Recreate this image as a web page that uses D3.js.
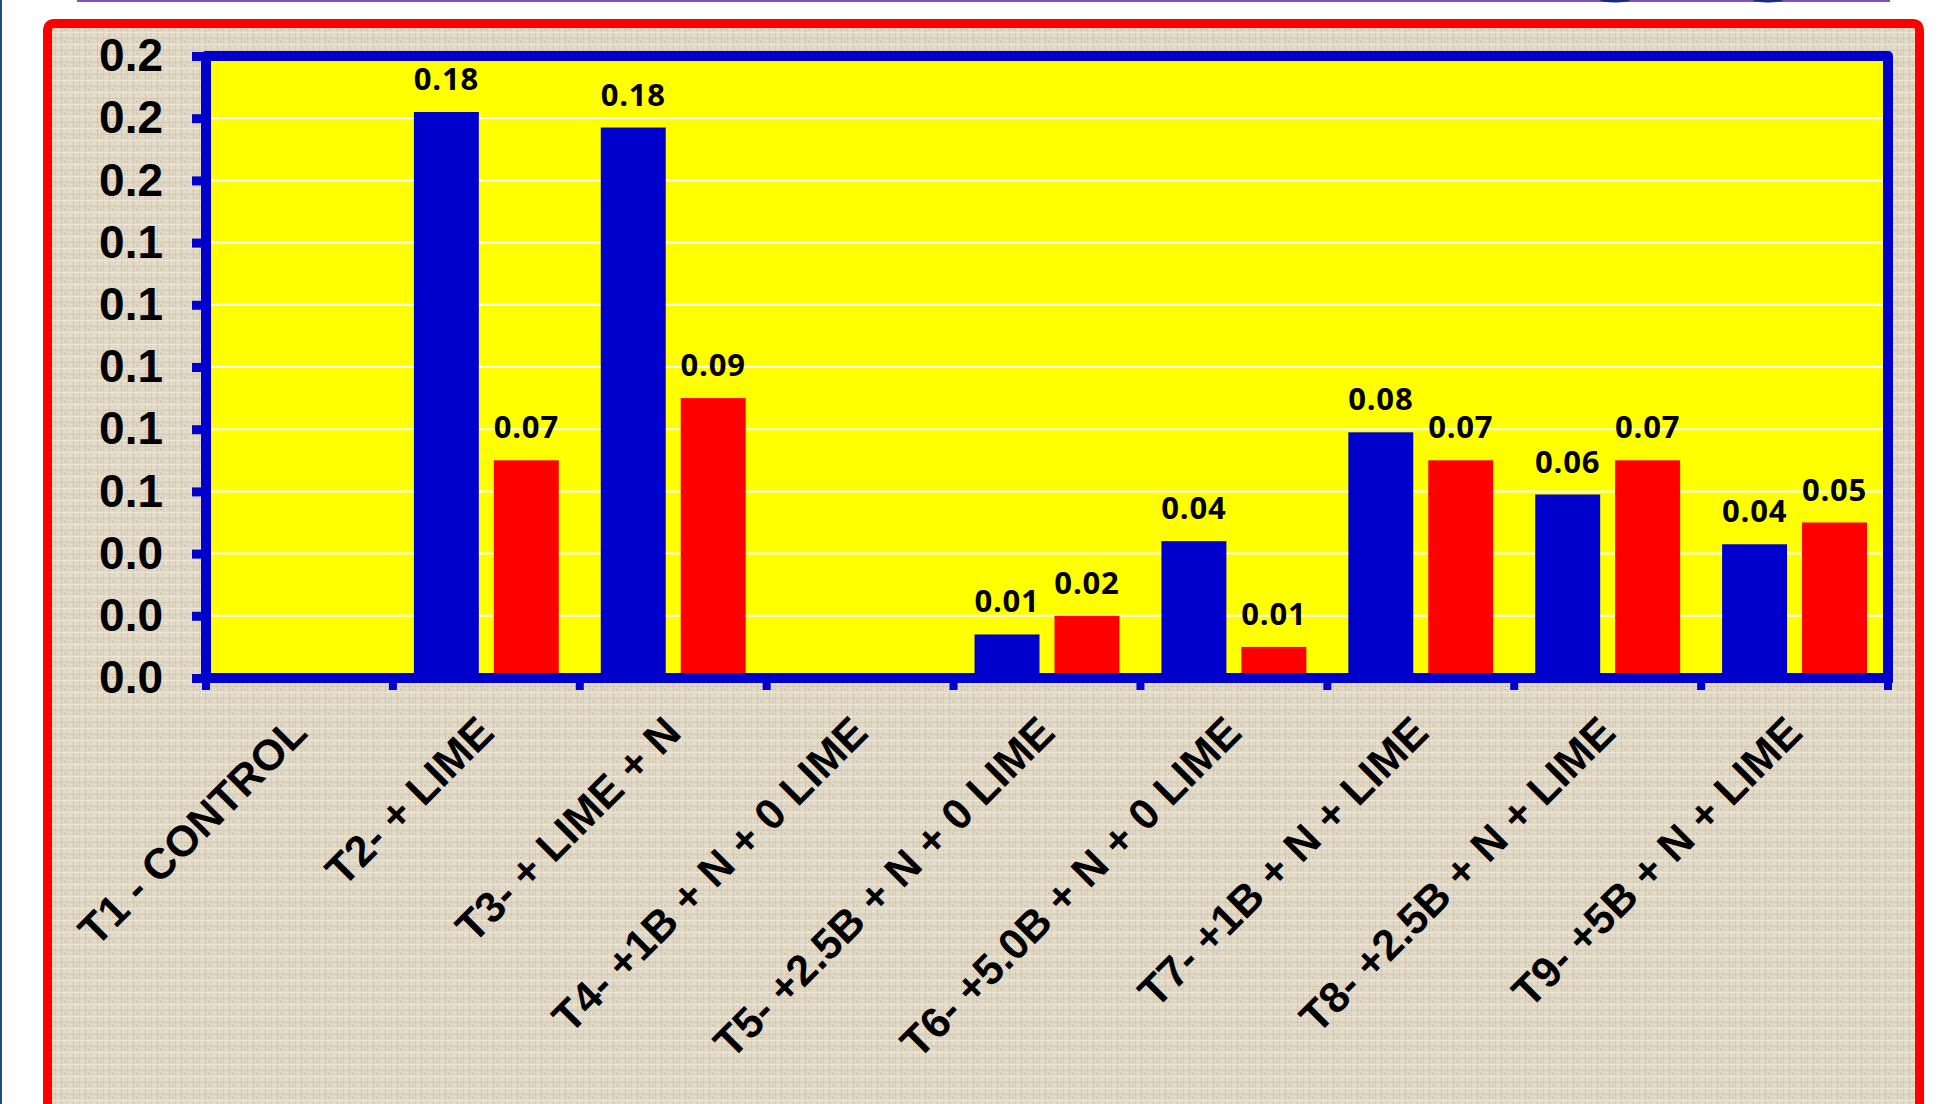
<!DOCTYPE html>
<html>
<head>
<meta charset="utf-8">
<script src="https://cdn.jsdelivr.net/npm/d3@7"></script>
<style>
  html, body { margin: 0; padding: 0; background: #ffffff; }
  svg { display: block; }
</style>
</head>
<body>
<svg id="chart" width="1959" height="1104"></svg>
<script>
// ---- data ----
const categories = [
  "T1 - CONTROL",
  "T2- + LIME",
  "T3- + LIME + N",
  "T4- +1B + N + 0 LIME",
  "T5- +2.5B + N + 0 LIME",
  "T6- +5.0B + N + 0 LIME",
  "T7- +1B + N + LIME",
  "T8- +2.5B + N + LIME",
  "T9- +5B + N + LIME"
];
const seriesBlue = [0, 0.182, 0.177, 0, 0.014, 0.044, 0.079, 0.059, 0.043];
const seriesRed  = [0, 0.070, 0.090, 0, 0.020, 0.010, 0.070, 0.070, 0.050];
const seriesNames = ["blue", "red"];
const yTicks = [0, 0.02, 0.04, 0.06, 0.08, 0.10, 0.12, 0.14, 0.16, 0.18, 0.20];

// ---- layout ----
const svg = d3.select("#chart");
const W = 1959, H = 1104;
const plot = { left: 206, right: 1888, top: 56, bottom: 678 };
const BLUE = "#0000cc", RED = "#ff0000", YELLOW = "#ffff00";

// texture pattern
const defs = svg.append("defs");
const pat = defs.append("pattern").attr("id", "linen")
  .attr("patternUnits", "userSpaceOnUse").attr("width", 12).attr("height", 12);
pat.append("rect").attr("width", 12).attr("height", 12).attr("fill", "#e3d9c7");
pat.append("rect").attr("x", 1).attr("y", 0).attr("width", 1).attr("height", 12).attr("fill", "#cfc4b0");
pat.append("rect").attr("x", 7).attr("y", 0).attr("width", 1).attr("height", 12).attr("fill", "#d8cebb");
pat.append("rect").attr("x", 0).attr("y", 2).attr("width", 12).attr("height", 1).attr("fill", "#d2c7b3");
pat.append("rect").attr("x", 0).attr("y", 8).attr("width", 12).attr("height", 1).attr("fill", "#efe7d7");
pat.append("rect").attr("x", 4).attr("y", 5).attr("width", 2).attr("height", 1).attr("fill", "#c4b8a3");
pat.append("rect").attr("x", 9).attr("y", 10).attr("width", 1).attr("height", 2).attr("fill", "#f3ecde");

// page decorations
svg.append("rect").attr("x", 0).attr("y", 0).attr("width", 2).attr("height", H).attr("fill", "#1f4e79");
svg.append("rect").attr("x", 77).attr("y", 0).attr("width", 1813).attr("height", 2).attr("fill", "#8a4fbf");
svg.append("ellipse").attr("cx", 1615).attr("cy", 0).attr("rx", 15).attr("ry", 2.5).attr("fill", "#1a2a80");
svg.append("ellipse").attr("cx", 1768).attr("cy", 0).attr("rx", 15).attr("ry", 2.5).attr("fill", "#1a2a80");

// outer red frame with texture
svg.append("rect")
  .attr("x", 47.5).attr("y", 23.5).attr("width", 1872).attr("height", 1200)
  .attr("rx", 6).attr("fill", "url(#linen)")
  .attr("stroke", RED).attr("stroke-width", 9);

// scales
const x0 = d3.scaleBand().domain(categories).range([plot.left, plot.right]).paddingInner(0).paddingOuter(0);
const inset = 21;
const x1 = d3.scaleBand().domain(seriesNames)
  .range([inset, x0.bandwidth() - inset]).paddingInner(15 / 80).paddingOuter(0);
const y = d3.scaleLinear().domain([0, 0.2]).range([plot.bottom, plot.top]);

// plot area
svg.append("rect")
  .attr("x", plot.left).attr("y", plot.top)
  .attr("width", plot.right - plot.left).attr("height", plot.bottom - plot.top)
  .attr("fill", YELLOW);

// gridlines
svg.append("g").selectAll("line")
  .data(yTicks.filter(t => t > 0 && t < 0.2))
  .join("line")
  .attr("x1", plot.left).attr("x2", plot.right)
  .attr("y1", d => y(d)).attr("y2", d => y(d))
  .attr("stroke", "#ffffff").attr("stroke-width", 2);

// bars
const rows = categories.map((c, i) => ({ cat: c, values: [
  { key: "blue", v: seriesBlue[i], color: BLUE },
  { key: "red", v: seriesRed[i], color: RED }
]}));
const groups = svg.append("g").selectAll("g")
  .data(rows).join("g")
  .attr("transform", d => `translate(${x0(d.cat)},0)`);
groups.selectAll("rect")
  .data(d => d.values.filter(e => e.v > 0))
  .join("rect")
  .attr("x", d => x1(d.key)).attr("width", x1.bandwidth())
  .attr("y", d => y(d.v)).attr("height", d => y(0) - y(d.v))
  .attr("fill", d => d.color);
const fmt = d3.format(".2f");
groups.selectAll("text")
  .data(d => d.values.filter(e => e.v > 0))
  .join("text")
  .attr("x", d => x1(d.key) + x1.bandwidth() / 2)
  .attr("y", d => y(d.v) - 22)
  .attr("text-anchor", "middle")
  .attr("font-family", "'Open Sans', sans-serif")
  .attr("font-weight", 700).attr("font-size", 31)
  .attr("letter-spacing", 0.8)
  .attr("fill", "#000")
  .text(d => fmt(d.v));

// frame (left, top, right)
svg.append("path")
  .attr("d", `M${plot.left},${plot.bottom} L${plot.left},${plot.top} L${plot.right},${plot.top} L${plot.right},${plot.bottom}`)
  .attr("fill", "none").attr("stroke", BLUE).attr("stroke-width", 10)
  .attr("stroke-linejoin", "round");

// y axis
const yAxis = d3.axisLeft(y).tickValues(yTicks).tickFormat(d3.format(".1f"))
  .tickSize(14).tickPadding(29);
const gy = svg.append("g").attr("transform", `translate(${plot.left},0)`).call(yAxis);
gy.select(".domain").remove();
gy.selectAll(".tick line").attr("stroke", BLUE).attr("stroke-width", 9);
gy.selectAll(".tick text")
  .attr("fill", "#000")
  .attr("font-family", "'Liberation Sans', Arial, sans-serif")
  .attr("font-weight", 700).attr("font-size", 46);

// x axis
const xTickPos = d3.range(categories.length + 1).map(i => plot.left + i * x0.step());
svg.append("g").selectAll("line").data(xTickPos).join("line")
  .attr("x1", d => d).attr("x2", d => d)
  .attr("y1", plot.bottom).attr("y2", plot.bottom + 12)
  .attr("stroke", BLUE).attr("stroke-width", 8);
svg.append("line")
  .attr("x1", plot.left - 5).attr("x2", plot.right + 5)
  .attr("y1", plot.bottom).attr("y2", plot.bottom)
  .attr("stroke", BLUE).attr("stroke-width", 10);

// x labels
svg.append("g").selectAll("text")
  .data(categories).join("text")
  .attr("transform", d => `translate(${x0(d) + x0.bandwidth() / 2 + 10},735) rotate(-45)`)
  .attr("text-anchor", "end")
  .attr("font-family", "'Liberation Sans', Arial, sans-serif")
  .attr("font-weight", 700).attr("font-size", 43)
  .attr("fill", "#000")
  .text(d => d);
</script>
</body>
</html>
